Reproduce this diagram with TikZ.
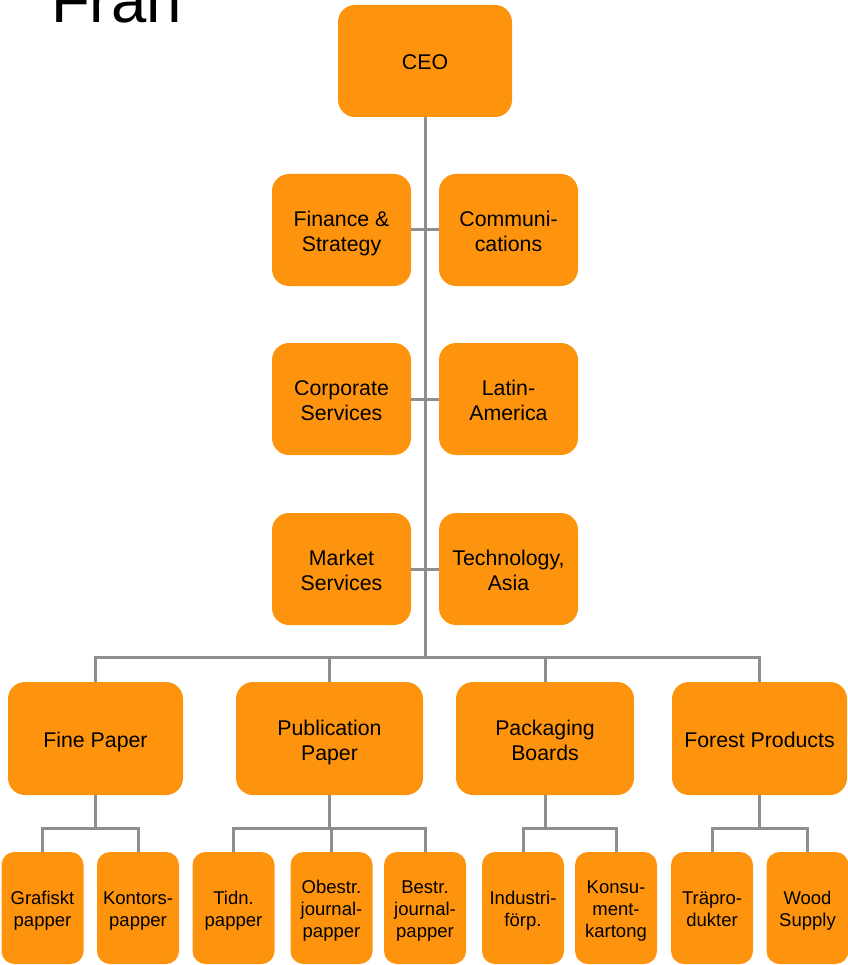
\documentclass[tikz,border=0pt]{standalone}
\usepackage{fontspec}
\setmainfont{Liberation Sans}
\definecolor{boxorange}{RGB}{254,148,14}
\definecolor{linegray}{RGB}{142,142,142}
\newcommand{\bigtx}[1]{\raisebox{0pt}[\dimexpr\height+8pt\relax]{\begin{tabular}{@{}c@{}}#1\end{tabular}}}
\newcommand{\smtx}[1]{\raisebox{0pt}[\dimexpr\height+6pt\relax]{\begin{tabular}{@{}c@{}}#1\end{tabular}}}
\begin{document}
\begin{tikzpicture}[x=1pt,y=-1pt,
  box/.style={fill=boxorange, draw=none, rounded corners=17pt, align=center, inner sep=0pt,
    font=\fontsize{21.3}{25}\selectfont, text=black},
  midbox/.style={box, minimum width=139pt, minimum height=112pt},
  bigbox/.style={box, minimum height=113pt},
  smallbox/.style={box, rounded corners=13pt, minimum width=82pt, minimum height=112pt,
    font=\fontsize{18.5}{22}\selectfont},
  conn/.style={draw=linegray, line width=3pt}]
\useasboundingbox (0,0) rectangle (847,965);

\node[anchor=base west, inner sep=0pt, font=\fontsize{63.5}{70}\selectfont] (title) at (51,23) {Fran};

\node[box, minimum width=174pt, minimum height=112pt] (ceo) at (425,61) {\bigtx{CEO}};

\node[midbox] (fin) at (341.5,230) {\bigtx{Finance \&\\Strategy}};
\node[midbox] (com) at (508.5,230) {\bigtx{Communi-\\cations}};
\node[midbox] (corp) at (341.5,399) {\bigtx{Corporate\\Services}};
\node[midbox] (lat) at (508.5,399) {\bigtx{Latin-\\America}};
\node[midbox] (mkt) at (341.5,569) {\bigtx{Market\\Services}};
\node[midbox] (tech) at (508.5,569) {\bigtx{Technology,\\Asia}};

\node[bigbox, minimum width=175pt] (fp) at (95.5,738.5) {\bigtx{Fine Paper}};
\node[bigbox, minimum width=187pt] (pp) at (329.5,738.5) {\bigtx{Publication\\Paper}};
\node[bigbox, minimum width=178pt] (pb) at (545,738.5) {\bigtx{Packaging\\Boards}};
\node[bigbox, minimum width=175pt] (fo) at (759.5,738.5) {\bigtx{Forest Products}};

\node[smallbox] (gra) at (42.5,908) {\smtx{Grafiskt\\papper}};
\node[smallbox] (kon) at (138,908) {\smtx{Kontors-\\papper}};
\node[smallbox] (tid) at (233.5,908) {\smtx{Tidn.\\papper}};
\node[smallbox] (obe) at (331.5,908) {\smtx{Obestr.\\journal-\\papper}};
\node[smallbox] (bes) at (425,908) {\smtx{Bestr.\\journal-\\papper}};
\node[smallbox] (ind) at (523,908) {\smtx{Industri-\\förp.}};
\node[smallbox] (kons) at (616,908) {\smtx{Konsu-\\ment-\\kartong}};
\node[smallbox] (tra) at (712,908) {\smtx{Träpro-\\dukter}};
\node[smallbox] (woo) at (807.5,908) {\smtx{Wood\\Supply}};

% coordinates for buses
\coordinate (bus) at (425,657.5);
\path (fp.south) ++(0,33) coordinate (fpb);
\path (pp.south) ++(0,33) coordinate (ppb);
\path (pb.south) ++(0,33) coordinate (pbb);
\path (fo.south) ++(0,33) coordinate (fob);

\path[conn] (ceo.south) -- (bus);
\path[conn] (fin.east) -- (com.west);
\path[conn] (corp.east) -- (lat.west);
\path[conn] (mkt.east) -- (tech.west);
\path[conn] (fp.north) |- (bus) -| (fo.north);
\path[conn] (pp.north) |- (bus);
\path[conn] (pb.north) |- (bus);

\path[conn] (fp.south) -- (fpb);
\path[conn] (gra.north) |- (fpb) -| (kon.north);
\path[conn] (pp.south) -- (ppb);
\path[conn] (tid.north) |- (ppb) -| (bes.north);
\path[conn] (obe.north) |- (ppb);
\path[conn] (pb.south) -- (pbb);
\path[conn] (ind.north) |- (pbb) -| (kons.north);
\path[conn] (fo.south) -- (fob);
\path[conn] (tra.north) |- (fob) -| (woo.north);
\end{tikzpicture}
\end{document}
